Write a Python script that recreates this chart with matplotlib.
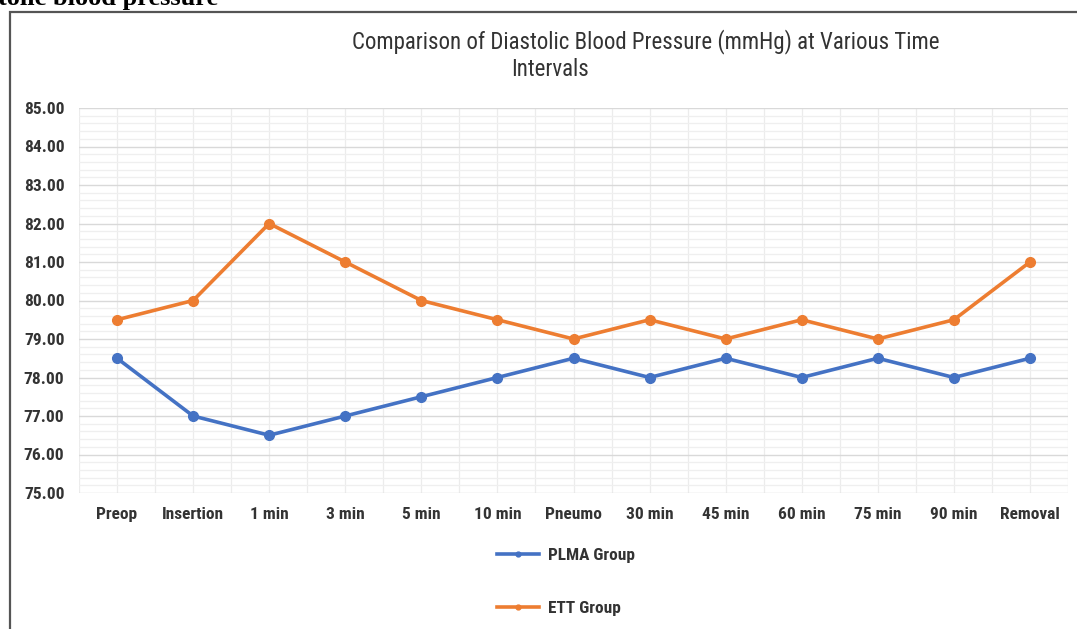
import matplotlib
matplotlib.use("Agg")
import matplotlib.pyplot as plt
from matplotlib.ticker import MultipleLocator, FixedLocator
from matplotlib.patches import Rectangle
from matplotlib.lines import Line2D

categories = ["Preop", "Insertion", "1 min", "3 min", "5 min", "10 min", "Pneumo",
              "30 min", "45 min", "60 min", "75 min", "90 min", "Removal"]
plma = [78.5, 77.0, 76.5, 77.0, 77.5, 78.0, 78.5, 78.0, 78.5, 78.0, 78.5, 78.0, 78.5]
ett = [79.5, 80.0, 82.0, 81.0, 80.0, 79.5, 79.0, 79.5, 79.0, 79.5, 79.0, 79.5, 81.0]
y_ticks = [75, 76, 77, 78, 79, 80, 81, 82, 83, 84, 85]
series_names = ["PLMA Group", "ETT Group"]
title_1 = "Comparison of Diastolic Blood Pressure (mmHg) at Various Time"
title_2 = "Intervals"

narrow_bold = ["Roboto Condensed", "PT Sans Narrow", "DejaVu Sans"]
title_font = ["Roboto Condensed", "PT Sans Narrow", "DejaVu Sans"]
colors = ["#4472C4", "#ED7D31"]

fig = plt.figure(figsize=(10.77, 6.29), dpi=100)
W, H = 1077, 629
renderer = fig.canvas.get_renderer()


def fit_size(text, family, weight, target_px, base=12.0):
    t = fig.text(0, 0, text, family=family, fontweight=weight, fontsize=base)
    w = t.get_window_extent(renderer).width
    t.remove()
    return base * target_px / w


tick_size = fit_size("Insertion", narrow_bold, "bold", 62)
title_size = fit_size(title_1, title_font, "normal", 587)
legend_size = fit_size("PLMA Group", narrow_bold, "bold", 87)

# outer border
fig.patches.append(Rectangle((10 / W, -0.1), 1.2, 1 - 12 / H + 0.1,
                             transform=fig.transFigure, fill=False,
                             edgecolor="#555555", linewidth=1.6))

# cropped document heading at top-left
fig.text(218 / W, 1 - 5 / H, "tolic blood pressure", ha="right", va="baseline",
         family=["Liberation Serif", "DejaVu Serif"], fontweight="bold",
         fontsize=19, color="black")

ax = fig.add_axes([79 / W, 1 - 493 / H, (1068 - 79) / W, (493 - 108) / H])
x = list(range(len(categories)))
for vals, c, name in zip([plma, ett], colors, series_names):
    ax.plot(x, vals, color=c, lw=2.6, marker="o", ms=7, label=name)

ax.set_xlim(-0.5, len(categories) - 0.5)
ax.set_ylim(75, 85)
ax.set_yticks(y_ticks)
ax.set_yticklabels([f"{v:.2f}" for v in y_ticks])
ax.yaxis.set_minor_locator(MultipleLocator(0.2))
ax.set_xticks(x)
ax.set_xticklabels(categories)
ax.xaxis.set_minor_locator(FixedLocator([i - 0.5 for i in range(len(categories) + 1)]))

ax.grid(which="major", axis="y", color="#d9d9d9", lw=1.0)
ax.grid(which="minor", axis="y", color="#efefef", lw=0.9)
ax.grid(which="major", axis="x", color="#ececec", lw=0.9)
ax.grid(which="minor", axis="x", color="#ececec", lw=0.9)
ax.set_axisbelow(True)
for s in ax.spines.values():
    s.set_visible(False)
ax.tick_params(which="both", length=0)
ax.tick_params(axis="y", pad=10.5)
ax.tick_params(axis="x", pad=10)
for lab in ax.get_xticklabels() + ax.get_yticklabels():
    lab.set_family(narrow_bold)
    lab.set_fontweight("bold")
    lab.set_fontsize(tick_size)
    lab.set_color("#333333")

fig.text(646 / W, 1 - 42 / H, title_1, ha="center", va="center",
         family=title_font, fontsize=title_size, color="#333333")
fig.text(550 / W, 1 - 70 / H, title_2, ha="center", va="center",
         family=title_font, fontsize=title_size, color="#333333")

# legend: one entry per row, rows far apart
for name, c, yc in zip(series_names, colors, [555, 608]):
    h = Line2D([], [], color=c, lw=2.6, marker="o", ms=3.5)
    leg = fig.legend([h], [name], loc="center left",
                     bbox_to_anchor=(494 / W, 1 - yc / H),
                     frameon=False, handlelength=2.4, handletextpad=0.55,
                     borderaxespad=0, borderpad=0.2,
                     prop={"family": narrow_bold, "weight": "bold", "size": legend_size})
    for t in leg.get_texts():
        t.set_color("#333333")

fig.savefig("out.png", dpi=100)
